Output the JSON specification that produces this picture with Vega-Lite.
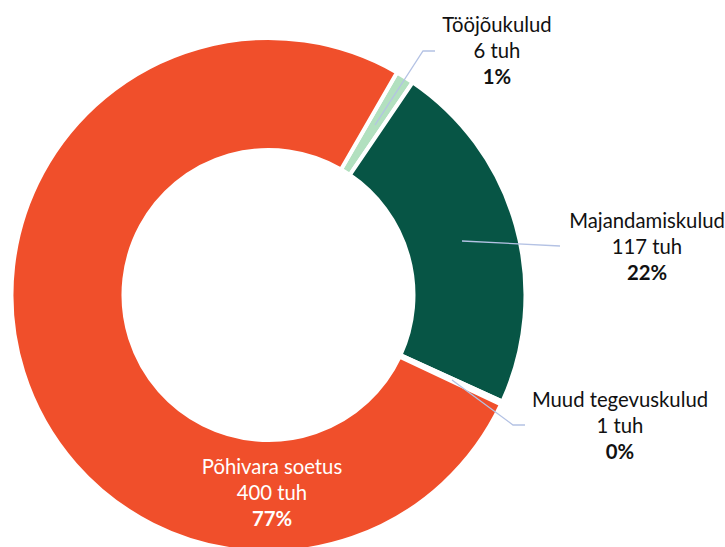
{
  "$schema": "https://vega.github.io/schema/vega-lite/v6.json",
  "width": 725,
  "height": 547,
  "autosize": {"type": "none"},
  "padding": 0,
  "background": "white",
  "config": {"view": {"stroke": null}},
  "datasets": {
    "slices": [
      {"name": "Tööjõukulud", "value": 6, "idx": 1, "valText": "6 tuh", "pct": "1%", "lx": 0.889, "ly": 0.9455},
      {"name": "Majandamiskulud", "value": 117, "idx": 2, "valText": "117 tuh", "pct": "22%", "lx": 1.4728, "ly": 0.1829},
      {"name": "Muud tegevuskulud", "value": 1, "idx": 3, "valText": "1 tuh", "pct": "0%", "lx": 1.3677, "ly": -0.5136},
      {"name": "Põhivara soetus", "value": 400, "idx": 4, "valText": "400 tuh", "pct": "77%", "lx": 0.0136, "ly": -0.7743}
    ],
    "leaders": [
      {"name": "Tööjõukulud", "seq": 1, "u": 0.4144, "v": 0.6615},
      {"name": "Tööjõukulud", "seq": 2, "u": 0.6012, "v": 0.9494},
      {"name": "Tööjõukulud", "seq": 3, "u": 0.6479, "v": 0.9494},
      {"name": "Majandamiskulud", "seq": 1, "u": 0.7529, "v": 0.2101},
      {"name": "Majandamiskulud", "seq": 2, "u": 1.1342, "v": 0.1907},
      {"name": "Muud tegevuskulud", "seq": 1, "u": 0.7140, "v": -0.3307},
      {"name": "Muud tegevuskulud", "seq": 2, "u": 0.9514, "v": -0.5058},
      {"name": "Muud tegevuskulud", "seq": 3, "u": 0.9981, "v": -0.5058}
    ]
  },
  "layer": [
    {
      "data": {"name": "slices"},
      "mark": {"type": "arc", "outerRadius": 257, "innerRadius": 145, "stroke": "white", "strokeWidth": 4},
      "encoding": {
        "x": {"datum": 0, "type": "quantitative", "scale": {"domain": [-1.0447, 1.7763], "nice": false, "zero": false}, "axis": null},
        "y": {"datum": 0, "type": "quantitative", "scale": {"domain": [-0.9805, 1.1479], "nice": false, "zero": false}, "axis": null},
        "theta": {"field": "value", "type": "quantitative", "stack": true, "scale": {"range": [0.5236, 6.8068]}},
        "order": {"field": "idx", "type": "quantitative"},
        "color": {
          "field": "name", "type": "nominal", "legend": null,
          "scale": {
            "domain": ["Tööjõukulud", "Majandamiskulud", "Muud tegevuskulud", "Põhivara soetus"],
            "range": ["#B2E0BF", "#075545", "#9DC3E6", "#F04F2B"]
          }
        }
      }
    },
    {
      "data": {"name": "leaders"},
      "mark": {"type": "line", "color": "#B4C2E4", "strokeWidth": 1.3},
      "encoding": {
        "x": {"field": "u", "type": "quantitative"},
        "y": {"field": "v", "type": "quantitative"},
        "detail": {"field": "name"},
        "order": {"field": "seq", "type": "quantitative"}
      }
    },
    {
      "data": {"name": "slices"},
      "mark": {"type": "text", "font": "Lato", "fontSize": 20.3, "dy": -26, "baseline": "middle", "align": "center"},
      "encoding": {
        "x": {"field": "lx", "type": "quantitative"},
        "y": {"field": "ly", "type": "quantitative"},
        "text": {"field": "name"},
        "color": {"condition": {"test": "datum.name === 'Põhivara soetus'", "value": "white"}, "value": "#111111"}
      }
    },
    {
      "data": {"name": "slices"},
      "mark": {"type": "text", "font": "Lato", "fontSize": 20.3, "dy": 0, "baseline": "middle", "align": "center"},
      "encoding": {
        "x": {"field": "lx", "type": "quantitative"},
        "y": {"field": "ly", "type": "quantitative"},
        "text": {"field": "valText"},
        "color": {"condition": {"test": "datum.name === 'Põhivara soetus'", "value": "white"}, "value": "#111111"}
      }
    },
    {
      "data": {"name": "slices"},
      "mark": {"type": "text", "font": "Lato", "fontSize": 20.3, "fontWeight": "bold", "dy": 26, "baseline": "middle", "align": "center"},
      "encoding": {
        "x": {"field": "lx", "type": "quantitative"},
        "y": {"field": "ly", "type": "quantitative"},
        "text": {"field": "pct"},
        "color": {"condition": {"test": "datum.name === 'Põhivara soetus'", "value": "white"}, "value": "#111111"}
      }
    }
  ]
}
